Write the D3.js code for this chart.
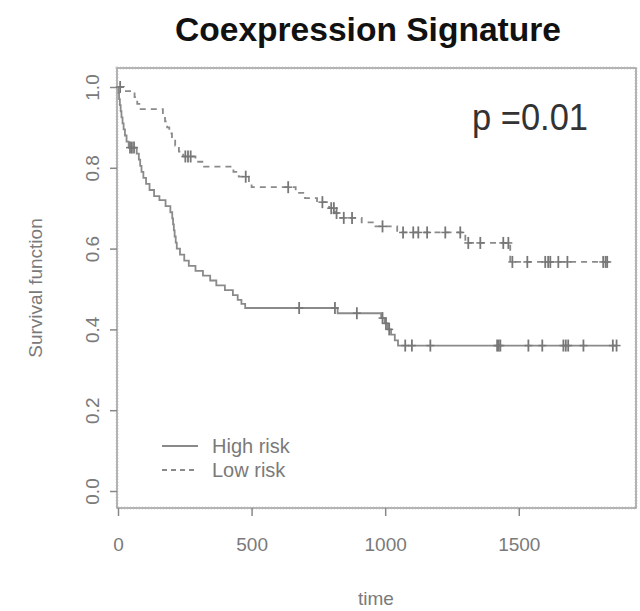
<!DOCTYPE html>
<html>
<head>
<meta charset="utf-8">
<script src="https://cdn.jsdelivr.net/npm/d3@7"></script>
<style>
  html, body { margin: 0; padding: 0; background: #fff; }
  svg { display: block; }
</style>
</head>
<body>
<svg id="chart" width="640" height="611"></svg>
<script>
// ---------- data ----------
const chartTitle = "Coexpression Signature";
const xLabel = "time";
const yLabel = "Survival function";
const pValueText = "p =0.01";
const legendLabels = ["High risk", "Low risk"];
const xTicks = [0, 500, 1000, 1500];
const yTicks = [0.0, 0.2, 0.4, 0.6, 0.8, 1.0];

// High risk (solid): step times and survival after each step
const highTimes = [0, 2, 4, 7, 10, 13, 17, 21, 26, 32, 40, 70, 78, 83, 88, 95, 105, 118, 135, 155, 178, 196, 203, 206, 209, 212, 216, 220, 232, 248, 265, 290, 318, 345, 368, 400, 430, 448, 462, 476, 822, 985, 998, 1010, 1022, 1036, 1048];
const highSurv  = [1.0, 0.985, 0.97, 0.955, 0.94, 0.925, 0.91, 0.895, 0.88, 0.865, 0.85, 0.835, 0.82, 0.805, 0.79, 0.775, 0.76, 0.745, 0.73, 0.72, 0.705, 0.69, 0.675, 0.66, 0.645, 0.63, 0.615, 0.60, 0.585, 0.57, 0.557, 0.545, 0.533, 0.521, 0.509, 0.497, 0.485, 0.473, 0.463, 0.453, 0.44, 0.428, 0.415, 0.40, 0.387, 0.373, 0.36];
const highCensor = [45, 52, 60, 678, 812, 894, 990, 1003, 1015, 1075, 1100, 1169, 1419, 1425, 1431, 1536, 1588, 1667, 1676, 1685, 1742, 1852, 1866];

// Low risk (dashed)
const lowTimes = [0, 22, 62, 72, 80, 168, 176, 184, 192, 202, 214, 228, 244, 290, 322, 432, 452, 490, 500, 665, 700, 745, 790, 812, 826, 912, 960, 1045, 1300, 1468];
const lowSurv  = [1.0, 0.99, 0.975, 0.958, 0.945, 0.93, 0.915, 0.90, 0.885, 0.87, 0.855, 0.84, 0.828, 0.815, 0.803, 0.79, 0.778, 0.764, 0.752, 0.738, 0.725, 0.715, 0.70, 0.688, 0.676, 0.665, 0.655, 0.64, 0.614, 0.567];
const lowCensor = [8, 252, 262, 272, 478, 637, 765, 798, 808, 818, 845, 876, 990, 1067, 1105, 1124, 1157, 1225, 1281, 1311, 1356, 1442, 1461, 1476, 1532, 1599, 1610, 1618, 1648, 1682, 1816, 1825, 1831];

// ---------- layout ----------
const svg = d3.select("#chart");
const box = { left: 117, right: 636, top: 68, bottom: 508 };
const x = d3.scaleLinear().domain([0, 1935]).range([118, 635]);
const y = d3.scaleLinear().domain([0, 1]).range([491, 87]);

const lineColor = "#8a8a8a";
const textColor = "#7a7a7a";

// title
svg.append("text")
  .attr("x", 368).attr("y", 41)
  .attr("text-anchor", "middle")
  .attr("font-family", "'Liberation Sans', Arial, sans-serif")
  .attr("font-weight", "bold")
  .attr("font-size", 34)
  .attr("textLength", 386)
  .attr("lengthAdjust", "spacingAndGlyphs")
  .attr("fill", "#111")
  .text(chartTitle);

// plot box
svg.append("rect")
  .attr("x", box.left).attr("y", box.top)
  .attr("width", box.right - box.left).attr("height", box.bottom - box.top)
  .attr("fill", "none").attr("stroke", "#9a9a9a").attr("stroke-width", 1.5);
svg.append("rect")
  .attr("x", box.left).attr("y", box.top)
  .attr("width", box.right - box.left).attr("height", box.bottom - box.top)
  .attr("fill", "none").attr("stroke", "#b5b5b5").attr("stroke-width", 3)
  .attr("stroke-dasharray", "1,2").attr("opacity", 0.6);

// axes
const xAxis = svg.append("g")
  .attr("transform", `translate(0,${box.bottom})`)
  .call(d3.axisBottom(x).tickValues(xTicks).tickSize(8).tickPadding(22).tickFormat(d3.format("d")));
const yAxis = svg.append("g")
  .attr("transform", `translate(${box.left},0)`)
  .call(d3.axisLeft(y).tickValues(yTicks).tickSize(7).tickPadding(0).tickFormat(d3.format(".1f")));

[xAxis, yAxis].forEach(g => {
  g.select(".domain").remove();
  g.selectAll(".tick line").attr("stroke", "#888").attr("stroke-width", 1.5);
  g.selectAll(".tick text")
    .attr("fill", textColor)
    .attr("font-family", "'Liberation Sans', Arial, sans-serif")
    .attr("font-size", 19);
});
yAxis.selectAll(".tick text")
  .attr("x", null).attr("dy", null)
  .attr("text-anchor", "middle")
  .attr("transform", "translate(-25,0) rotate(-90)")
  .attr("dy", "0.35em");

// axis titles
svg.append("text")
  .attr("x", 376).attr("y", 605)
  .attr("text-anchor", "middle")
  .attr("font-family", "'Liberation Sans', Arial, sans-serif")
  .attr("font-size", 19).attr("fill", textColor)
  .text(xLabel);
svg.append("text")
  .attr("transform", `translate(42,${(box.top + box.bottom) / 2}) rotate(-90)`)
  .attr("text-anchor", "middle")
  .attr("font-family", "'Liberation Sans', Arial, sans-serif")
  .attr("font-size", 19).attr("fill", textColor)
  .text(yLabel);

// curves
const step = d3.line().x(d => x(d[0])).y(d => y(d[1])).curve(d3.curveStepAfter);
function curveData(times, surv, censor) {
  const pts = times.map((t, i) => [t, surv[i]]);
  const end = d3.max(censor);
  pts.push([end, surv[surv.length - 1]]);
  return pts;
}
function survAt(times, surv, t) {
  const i = d3.bisectRight(times, t) - 1;
  return surv[Math.max(0, i)];
}
const groups = [
  { times: highTimes, surv: highSurv, censor: highCensor, dash: null },
  { times: lowTimes, surv: lowSurv, censor: lowCensor, dash: "6,5" }
];
groups.forEach(g => {
  svg.append("path")
    .datum(curveData(g.times, g.surv, g.censor))
    .attr("d", step)
    .attr("fill", "none")
    .attr("stroke", lineColor)
    .attr("stroke-width", 1.8)
    .attr("stroke-dasharray", g.dash);
  const marks = svg.append("g");
  g.censor.forEach(t => {
    const cx = x(t), cy = y(survAt(g.times, g.surv, t));
    marks.append("line").attr("x1", cx).attr("x2", cx).attr("y1", cy - 6).attr("y2", cy + 6)
      .attr("stroke", "#777").attr("stroke-width", 1.8);
    marks.append("line").attr("x1", cx - 4).attr("x2", cx + 4).attr("y1", cy).attr("y2", cy)
      .attr("stroke", "#777").attr("stroke-width", 1.5);
  });
});

// p value
svg.append("text")
  .attr("x", 588).attr("y", 130)
  .attr("text-anchor", "end")
  .attr("font-family", "'Liberation Sans', Arial, sans-serif")
  .attr("font-size", 36)
  .attr("textLength", 116)
  .attr("lengthAdjust", "spacingAndGlyphs")
  .attr("fill", "#333")
  .text(pValueText);

// legend
const legend = svg.append("g");
legendLabels.forEach((lab, i) => {
  const ly = 446 + i * 24;
  legend.append("line")
    .attr("x1", 162).attr("x2", 198).attr("y1", ly).attr("y2", ly)
    .attr("stroke", lineColor).attr("stroke-width", 1.8)
    .attr("stroke-dasharray", i === 1 ? "5,4" : null);
  legend.append("text")
    .attr("x", 212).attr("y", ly).attr("dy", "0.35em")
    .attr("font-family", "'Liberation Sans', Arial, sans-serif")
    .attr("font-size", 20).attr("fill", textColor)
    .text(lab);
});
</script>
</body>
</html>
